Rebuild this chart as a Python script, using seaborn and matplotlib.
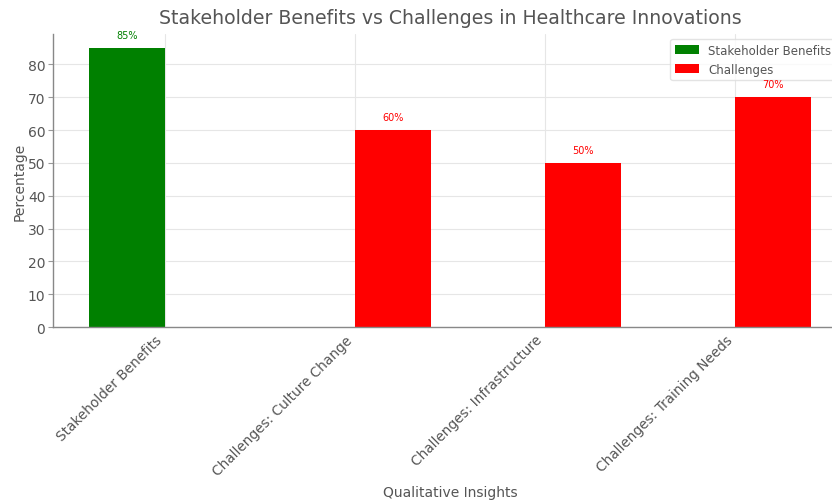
import matplotlib
matplotlib.use("Agg")
import matplotlib.pyplot as plt
import seaborn as sns
import pandas as pd

categories = ["Stakeholder Benefits", "Challenges: Culture Change",
              "Challenges: Infrastructure", "Challenges: Training Needs"]
groups = ["Stakeholder Benefits", "Challenges", "Challenges", "Challenges"]
values = [85, 60, 50, 70]
hue_order = ["Stakeholder Benefits", "Challenges"]
palette = {"Stakeholder Benefits": "green", "Challenges": "red"}

df = pd.DataFrame({"Category": categories, "Group": groups, "Value": values})

sns.set_theme(style="whitegrid")
plt.rcParams["font.family"] = ["DejaVu Sans"]
txt = "#555555"
plt.rcParams.update({"text.color": txt, "axes.labelcolor": txt,
                     "xtick.color": txt, "ytick.color": txt})

fig = plt.figure(figsize=(8.32, 5.02), dpi=100)
ax = fig.add_axes([0.0637, 0.3466, 0.955, 0.5837])

sns.barplot(data=df, x="Category", y="Value", hue="Group", hue_order=hue_order,
            order=categories, palette=palette, dodge=True, width=0.8,
            saturation=1, ax=ax, linewidth=0)

ax.set_xlim(-0.59, 3.59)
ax.set_ylim(0, 89.25)
ax.set_yticks(range(0, 90, 10))

for cont, g in zip(ax.containers, hue_order):
    for bar in cont:
        h = bar.get_height()
        if h and h > 0:
            ax.text(bar.get_x() + bar.get_width() / 2, h + 2.5, f"{int(h)}%",
                    ha="center", va="bottom", fontsize=7, color=palette[g],
                    zorder=6)

ax.set_title("Stakeholder Benefits vs Challenges in Healthcare Innovations",
             fontsize=13.6, color=txt, pad=8)
ax.set_xlabel("Qualitative Insights", fontsize=10, labelpad=5)
ax.set_ylabel("Percentage", fontsize=10, labelpad=1)
ax.tick_params(axis="x", labelsize=9.8, length=0, pad=4)
ax.tick_params(axis="y", labelsize=10, length=3.5, width=0.8, color="#999999", left=True, pad=2)
plt.setp(ax.get_xticklabels(), rotation=45, ha="right")

for s in ["top", "right"]:
    ax.spines[s].set_visible(False)
for s in ["left", "bottom"]:
    ax.spines[s].set_visible(True)
    ax.spines[s].set_color("#888888")
    ax.spines[s].set_linewidth(1.0)
ax.grid(True, color="#e6e6e6", linewidth=0.8)

leg = ax.legend(title=None, fontsize=8.5, loc="upper right", frameon=True,
                bbox_to_anchor=(836 / 832, 1 - 40 / 502),
                bbox_transform=fig.transFigure, borderaxespad=0)
leg.get_frame().set_edgecolor("#dddddd")

fig.savefig("out.png", dpi=100)
